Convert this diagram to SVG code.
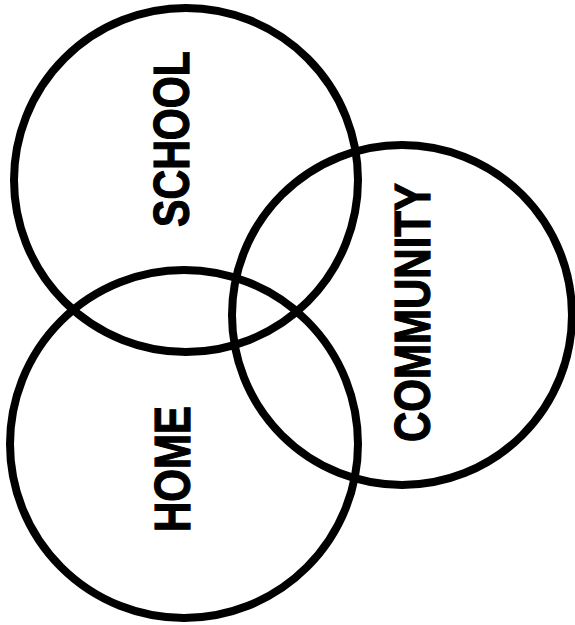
<svg xmlns="http://www.w3.org/2000/svg" width="575" height="625" viewBox="0 0 575 625">
<style>
.ring{fill:none;stroke:#000;stroke-width:8}
.lbl{font-family:"Liberation Sans",Arial,sans-serif;font-weight:bold;font-size:50px;fill:#000;stroke:#000;stroke-width:1.2}
</style>
<rect width="575" height="625" fill="#fff"/>
<g id="school">
<circle class="ring" cx="186" cy="180" r="172"/>
<text class="lbl" transform="translate(189,227) rotate(-90)" textLength="176" lengthAdjust="spacingAndGlyphs">SCHOOL</text>
</g>
<g id="community">
<circle class="ring" cx="402" cy="315" r="170"/>
<text class="lbl" transform="translate(430,442) rotate(-90)" textLength="259" lengthAdjust="spacingAndGlyphs">COMMUNITY</text>
</g>
<g id="home">
<circle class="ring" cx="184" cy="444" r="174"/>
<text class="lbl" transform="translate(190,532) rotate(-90)" textLength="126" lengthAdjust="spacingAndGlyphs">HOME</text>
</g>
</svg>
